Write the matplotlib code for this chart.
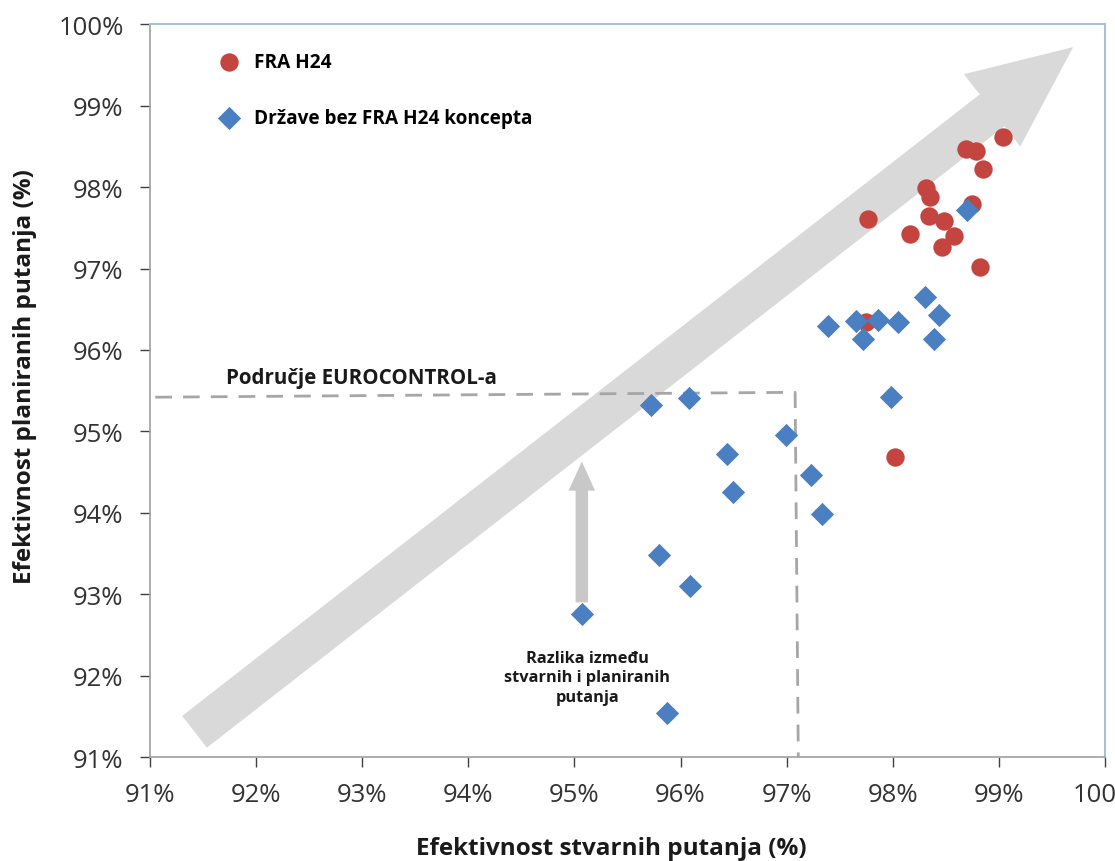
import matplotlib
matplotlib.use('agg')
import matplotlib.pyplot as plt
from matplotlib.ticker import FuncFormatter

# FRA H24 (stvarne, planirane) u %
fra_x = [99.04, 98.69, 98.78, 98.85, 98.31, 98.35, 98.75, 97.77, 98.34, 98.48,
         98.16, 98.58, 98.46, 98.82, 97.75, 98.02]
fra_y = [98.62, 98.47, 98.44, 98.22, 97.99, 97.88, 97.79, 97.61, 97.64, 97.58,
         97.42, 97.40, 97.26, 97.02, 96.34, 94.68]

# Države bez FRA H24 koncepta
bez_x = [98.70, 98.30, 98.44, 97.39, 97.65, 97.86, 98.05, 97.72, 98.39, 97.98,
         95.72, 96.08, 96.99, 96.44, 97.23, 96.49, 97.33, 95.80, 96.09, 95.07, 95.87]
bez_y = [97.72, 96.65, 96.43, 96.30, 96.35, 96.37, 96.34, 96.13, 96.13, 95.42,
         95.33, 95.41, 94.95, 94.72, 94.46, 94.25, 93.98, 93.48, 93.10, 92.76, 91.54]

# granica područja EUROCONTROL-a
ec_x = [91.05, 97.08, 97.11]
ec_y = [95.42, 95.48, 91.0]

ticks = [91, 92, 93, 94, 95, 96, 97, 98, 99, 100]

plt.rcParams['font.family'] = ['Open Sans', 'DejaVu Sans']

fig = plt.figure(figsize=(11.15, 8.62), dpi=100)
ax = fig.add_axes([0.1345, 0.1206, 0.8565, 0.850])

ax.set_xlim(91, 100)
ax.set_ylim(91, 100)

# velika strelica
ax.annotate('', xy=(99.70, 99.72), xytext=(91.42, 91.31),
            arrowprops=dict(arrowstyle='simple,head_length=0.74,head_width=0.66,tail_width=0.29',
                            mutation_scale=100, fc='#d9d9d9', ec='none',
                            shrinkA=0, shrinkB=0),
            zorder=1, annotation_clip=False)

ax.scatter(fra_x, fra_y, s=175, marker='o', color='#c4443f', zorder=3,
           label='FRA H24', linewidths=0)
ax.scatter(bez_x, bez_y, s=140, marker='D', color='#4a7fc1', zorder=4,
           label='Države bez FRA H24 koncepta', linewidths=0)

ax.plot(ec_x, ec_y, color='#a6a6a6', lw=2, dashes=(6, 4), zorder=2)
ax.text(91.72, 95.66, 'Područje EUROCONTROL-a', fontsize=14.8, fontweight='bold',
        va='center', ha='left', color='#1a1a1a')

# mala strelica
ax.annotate('', xy=(95.07, 94.63), xytext=(95.07, 92.90),
            arrowprops=dict(arrowstyle='simple,head_length=0.21,head_width=0.19,tail_width=0.09',
                            mutation_scale=100, fc='#c8c8c8', ec='none',
                            shrinkA=0, shrinkB=0), zorder=2)
ax.text(95.12, 91.98, 'Razlika između\nstvarnih i planiranih\nputanja', fontsize=11.8,
        fontweight='bold', ha='center', va='center', linespacing=1.3, color='#1a1a1a')

ax.set_xticks(ticks)
ax.set_yticks(ticks)
pct = FuncFormatter(lambda v, p: f'{v:.0f}%')
ax.xaxis.set_major_formatter(pct)
ax.yaxis.set_major_formatter(pct)
ax.tick_params(axis='both', labelsize=18.5, colors='#404040', length=7, width=1,
               direction='out')
ax.tick_params(axis='x', pad=11)
ax.tick_params(axis='y', pad=12)
for lbl in ax.get_xticklabels() + ax.get_yticklabels():
    lbl.set_color('#333333')

for s in ['left', 'bottom']:
    ax.spines[s].set_color('#a0a0a0')
    ax.spines[s].set_linewidth(1.2)
for s in ['top', 'right']:
    ax.spines[s].set_color('#a8c0dc')
    ax.spines[s].set_linewidth(1.5)

ax.set_xlabel('Efektivnost stvarnih putanja (%)', fontsize=17.5, fontweight='bold',
              color='#1a1a1a')
ax.set_ylabel('Efektivnost planiranih putanja (%)', fontsize=17.5, fontweight='bold',
              color='#1a1a1a')
ax.xaxis.set_label_coords(0.483, -0.108)
ax.yaxis.set_label_coords(-0.118, 0.52)

leg = ax.legend(loc='upper left', bbox_to_anchor=(0.055, 0.973), frameon=False,
                fontsize=13.7, labelspacing=1.9, handletextpad=0.3, borderaxespad=0,
                scatterpoints=1)
for t in leg.get_texts():
    t.set_fontweight('bold')

fig.savefig('out.png', dpi=100)
